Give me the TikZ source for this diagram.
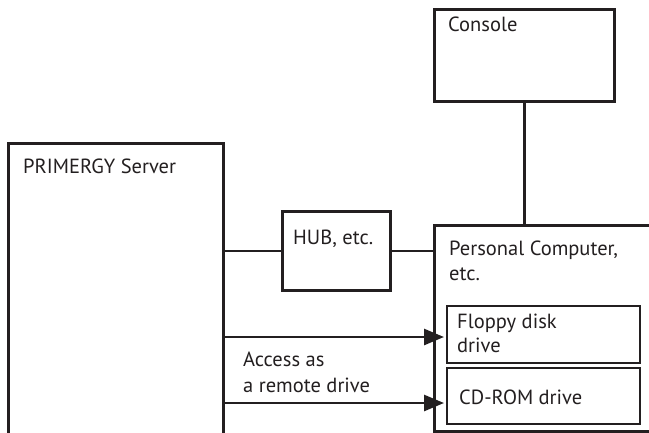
\documentclass[tikz,border=0pt]{standalone}
\usepackage{fontspec}
\setmainfont{PT Sans}
\usetikzlibrary{arrows.meta}
\definecolor{ink}{HTML}{231F20}
\begin{document}
\begin{tikzpicture}[x=1pt,y=-1pt,
  box/.style={draw=ink,line width=2.7pt,rectangle,inner sep=0pt,anchor=north west},
  inbox/.style={draw=ink,line width=2.4pt,rectangle,inner sep=0pt,anchor=north west},
  txt/.style={anchor=base west,inner sep=0pt,text=ink,font=\fontsize{20.5}{25}\selectfont},
  wire/.style={draw=ink,line width=2.7pt},
  acc/.style={draw=ink,line width=2.7pt,-{Triangle[length=20pt,width=16pt]}}]
\useasboundingbox (0,0) rectangle (649,432);
\fill[white] (0,0) rectangle (649,432);
% boxes
\node[box,minimum width=180pt,minimum height=92pt] (console) at (433,8) {};
\node[box,minimum width=215pt,minimum height=310pt] (server) at (7,142) {};
\node[box,minimum width=108pt,minimum height=79pt] (hub) at (281,210) {};
\node[box,minimum width=240pt,minimum height=206pt] (pc) at (433,224) {};
\node[inbox,minimum width=193pt,minimum height=57pt] (floppy) at (446,305) {};
\node[inbox,minimum width=193pt,minimum height=56pt] (cdrom) at (446,367) {};
% texts
\node[txt] (tconsole) at (448,31) {Console};
\node[txt] (tserver) at (23,173) {PRIMERGY Server};
\node[txt] (thub) at (293,244) {HUB, etc.};
\node[txt] (tpc1) at (449,255) {Personal Computer,};
\node[txt] (tpc2) at (449,280) {etc.};
\node[txt] (tfl1) at (457,328) {Floppy disk};
\node[txt] (tfl2) at (457,352) {drive};
\node[txt] (tcd) at (459,404) {CD-ROM drive};
\node[txt] (tacc1) at (243,366) {Access as};
\node[txt] (tacc2) at (243,392) {a remote drive};
% connectors
\draw[wire] (console.south) -- (console.south |- pc.north);
\draw[wire] (hub.west -| server.east) -- (hub.west);
\draw[wire] (hub.east) -- (hub.east -| pc.west);
\coordinate (a1) at (444,337);
\coordinate (a2) at (444,403);
\draw[acc] (a1 -| server.east) -- (a1);
\draw[acc] (a2 -| server.east) -- (a2);
\end{tikzpicture}
\end{document}
